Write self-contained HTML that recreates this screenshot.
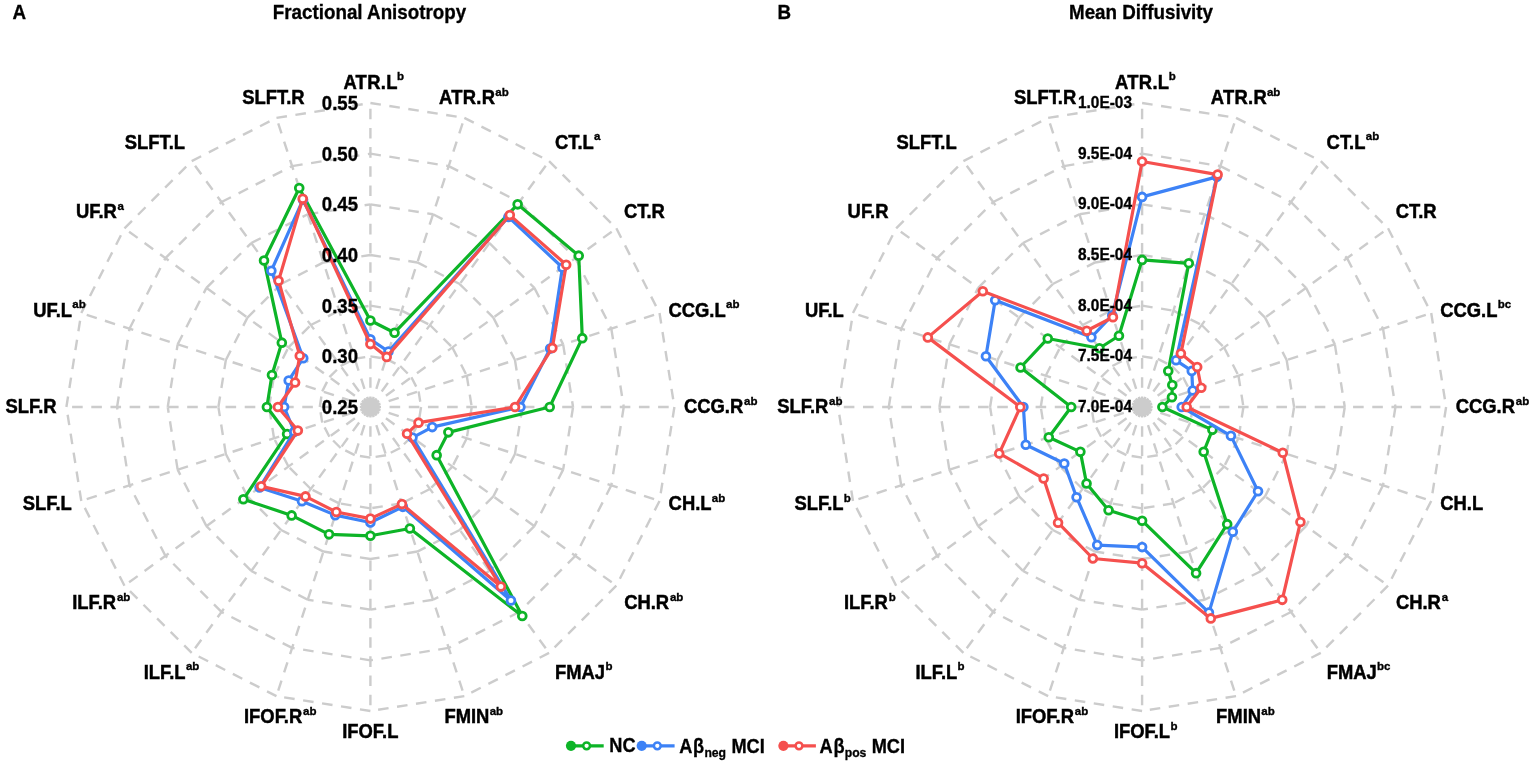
<!DOCTYPE html>
<html lang="en">
<head>
<meta charset="utf-8">
<title>Radar charts: Fractional Anisotropy and Mean Diffusivity</title>
<style>
html,body{margin:0;padding:0;background:#fff;}
body{width:1535px;height:766px;overflow:hidden;}
svg{display:block;}
svg text{font-family:"Liberation Sans",sans-serif;font-weight:700;fill:#000;stroke:#000;stroke-width:0.3px;}
svg .lab text{stroke-width:0.45px;}
svg text.sup{stroke-width:0.35px;}
</style>
</head>
<body>
<svg width="1535" height="766" viewBox="0 0 1535 766">
<rect width="1535" height="766" fill="#fff"/>
<!-- Panel A -->
<g fill="none" stroke="#cccccc" stroke-width="2.4" stroke-dasharray="10.6 8.58">
<path d="M370.4 407L370.4 103"/>
<path d="M370.4 407L464.34 117.88"/>
<path d="M370.4 407L549.09 161.06"/>
<path d="M370.4 407L616.34 228.31"/>
<path d="M370.4 407L659.52 313.06"/>
<path d="M370.4 407L674.4 407"/>
<path d="M370.4 407L659.52 500.94"/>
<path d="M370.4 407L616.34 585.69"/>
<path d="M370.4 407L549.09 652.94"/>
<path d="M370.4 407L464.34 696.12"/>
<path d="M370.4 407L370.4 711"/>
<path d="M370.4 407L276.46 696.12"/>
<path d="M370.4 407L191.71 652.94"/>
<path d="M370.4 407L124.46 585.69"/>
<path d="M370.4 407L81.28 500.94"/>
<path d="M370.4 407L66.4 407"/>
<path d="M370.4 407L81.28 313.06"/>
<path d="M370.4 407L124.46 228.31"/>
<path d="M370.4 407L191.71 161.06"/>
<path d="M370.4 407L276.46 117.88"/>
<path d="M370.4 356.33L386.06 358.81M386.06 358.81L400.18 366.01M400.18 366.01L411.39 377.22M411.39 377.22L418.59 391.34M418.59 391.34L421.07 407M421.07 407L418.59 422.66M418.59 422.66L411.39 436.78M411.39 436.78L400.18 447.99M400.18 447.99L386.06 455.19M386.06 455.19L370.4 457.67M370.4 457.67L354.74 455.19M354.74 455.19L340.62 447.99M340.62 447.99L329.41 436.78M329.41 436.78L322.21 422.66M322.21 422.66L319.73 407M319.73 407L322.21 391.34M322.21 391.34L329.41 377.22M329.41 377.22L340.62 366.01M340.62 366.01L354.74 358.81M354.74 358.81L370.4 356.33"/>
<path d="M370.4 305.67L401.71 310.63M401.71 310.63L429.96 325.02M429.96 325.02L452.38 347.44M452.38 347.44L466.77 375.69M466.77 375.69L471.73 407M471.73 407L466.77 438.31M466.77 438.31L452.38 466.56M452.38 466.56L429.96 488.98M429.96 488.98L401.71 503.37M401.71 503.37L370.4 508.33M370.4 508.33L339.09 503.37M339.09 503.37L310.84 488.98M310.84 488.98L288.42 466.56M288.42 466.56L274.03 438.31M274.03 438.31L269.07 407M269.07 407L274.03 375.69M274.03 375.69L288.42 347.44M288.42 347.44L310.84 325.02M310.84 325.02L339.09 310.63M339.09 310.63L370.4 305.67"/>
<path d="M370.4 255L417.37 262.44M417.37 262.44L459.74 284.03M459.74 284.03L493.37 317.66M493.37 317.66L514.96 360.03M514.96 360.03L522.4 407M522.4 407L514.96 453.97M514.96 453.97L493.37 496.34M493.37 496.34L459.74 529.97M459.74 529.97L417.37 551.56M417.37 551.56L370.4 559M370.4 559L323.43 551.56M323.43 551.56L281.06 529.97M281.06 529.97L247.43 496.34M247.43 496.34L225.84 453.97M225.84 453.97L218.4 407M218.4 407L225.84 360.03M225.84 360.03L247.43 317.66M247.43 317.66L281.06 284.03M281.06 284.03L323.43 262.44M323.43 262.44L370.4 255"/>
<path d="M370.4 204.33L433.03 214.25M433.03 214.25L489.52 243.04M489.52 243.04L534.36 287.88M534.36 287.88L563.15 344.37M563.15 344.37L573.07 407M573.07 407L563.15 469.63M563.15 469.63L534.36 526.12M534.36 526.12L489.52 570.96M489.52 570.96L433.03 599.75M433.03 599.75L370.4 609.67M370.4 609.67L307.77 599.75M307.77 599.75L251.28 570.96M251.28 570.96L206.44 526.12M206.44 526.12L177.65 469.63M177.65 469.63L167.73 407M167.73 407L177.65 344.37M177.65 344.37L206.44 287.88M206.44 287.88L251.28 243.04M251.28 243.04L307.77 214.25M307.77 214.25L370.4 204.33"/>
<path d="M370.4 153.67L448.68 166.07M448.68 166.07L519.31 202.05M519.31 202.05L575.35 258.09M575.35 258.09L611.33 328.72M611.33 328.72L623.73 407M623.73 407L611.33 485.28M611.33 485.28L575.35 555.91M575.35 555.91L519.31 611.95M519.31 611.95L448.68 647.93M448.68 647.93L370.4 660.33M370.4 660.33L292.12 647.93M292.12 647.93L221.49 611.95M221.49 611.95L165.45 555.91M165.45 555.91L129.47 485.28M129.47 485.28L117.07 407M117.07 407L129.47 328.72M129.47 328.72L165.45 258.09M165.45 258.09L221.49 202.05M221.49 202.05L292.12 166.07M292.12 166.07L370.4 153.67"/>
<path d="M370.4 103L464.34 117.88M464.34 117.88L549.09 161.06M549.09 161.06L616.34 228.31M616.34 228.31L659.52 313.06M659.52 313.06L674.4 407M674.4 407L659.52 500.94M659.52 500.94L616.34 585.69M616.34 585.69L549.09 652.94M549.09 652.94L464.34 696.12M464.34 696.12L370.4 711M370.4 711L276.46 696.12M276.46 696.12L191.71 652.94M191.71 652.94L124.46 585.69M124.46 585.69L81.28 500.94M81.28 500.94L66.4 407M66.4 407L81.28 313.06M81.28 313.06L124.46 228.31M124.46 228.31L191.71 161.06M191.71 161.06L276.46 117.88M276.46 117.88L370.4 103"/>
</g>
<circle cx="370.4" cy="407" r="9.6" fill="#cccccc"/>
<g stroke="#0db427">
<path d="M370.4 320.5L394.53 332.72L517.64 204.34L578.72 255.65L582.3 338.15L549.7 407L448.39 432.34L436.66 455.14L522.28 616.05L409.86 528.45L370.4 535.8L329.02 534.35L291.64 515.41L243.38 499.28L287.09 434.07L266.9 407L271.97 375.02L281.81 342.64L264.01 260.57L299.23 187.97Z" fill="none" stroke-width="3.2" stroke-linejoin="round"/>
<g fill="#fff" stroke-width="2.8">
<circle cx="370.4" cy="320.5" r="3.9"/>
<circle cx="394.53" cy="332.72" r="3.9"/>
<circle cx="517.64" cy="204.34" r="3.9"/>
<circle cx="578.72" cy="255.65" r="3.9"/>
<circle cx="582.3" cy="338.15" r="3.9"/>
<circle cx="549.7" cy="407" r="3.9"/>
<circle cx="448.39" cy="432.34" r="3.9"/>
<circle cx="436.66" cy="455.14" r="3.9"/>
<circle cx="522.28" cy="616.05" r="3.9"/>
<circle cx="409.86" cy="528.45" r="3.9"/>
<circle cx="370.4" cy="535.8" r="3.9"/>
<circle cx="329.02" cy="534.35" r="3.9"/>
<circle cx="291.64" cy="515.41" r="3.9"/>
<circle cx="243.38" cy="499.28" r="3.9"/>
<circle cx="287.09" cy="434.07" r="3.9"/>
<circle cx="266.9" cy="407" r="3.9"/>
<circle cx="271.97" cy="375.02" r="3.9"/>
<circle cx="281.81" cy="342.64" r="3.9"/>
<circle cx="264.01" cy="260.57" r="3.9"/>
<circle cx="299.23" cy="187.97" r="3.9"/>
</g></g>
<g stroke="#3d82f6">
<path d="M370.4 339.3L388.45 351.46L508.41 217.04L562.46 267.46L550.15 348.6L520.4 407L432.22 427.09L412.47 437.56L510.94 600.44L402.85 506.86L370.4 522.5L335.26 515.14L301.98 501.17L259.56 487.53L294.32 431.72L284.1 407L288.7 380.46L303.25 358.21L271.36 270.68L303.03 199.67Z" fill="none" stroke-width="3.2" stroke-linejoin="round"/>
<g fill="#fff" stroke-width="2.8">
<circle cx="370.4" cy="339.3" r="3.9"/>
<circle cx="388.45" cy="351.46" r="3.9"/>
<circle cx="508.41" cy="217.04" r="3.9"/>
<circle cx="562.46" cy="267.46" r="3.9"/>
<circle cx="550.15" cy="348.6" r="3.9"/>
<circle cx="520.4" cy="407" r="3.9"/>
<circle cx="432.22" cy="427.09" r="3.9"/>
<circle cx="412.47" cy="437.56" r="3.9"/>
<circle cx="510.94" cy="600.44" r="3.9"/>
<circle cx="402.85" cy="506.86" r="3.9"/>
<circle cx="370.4" cy="522.5" r="3.9"/>
<circle cx="335.26" cy="515.14" r="3.9"/>
<circle cx="301.98" cy="501.17" r="3.9"/>
<circle cx="259.56" cy="487.53" r="3.9"/>
<circle cx="294.32" cy="431.72" r="3.9"/>
<circle cx="284.1" cy="407" r="3.9"/>
<circle cx="288.7" cy="380.46" r="3.9"/>
<circle cx="303.25" cy="358.21" r="3.9"/>
<circle cx="271.36" cy="270.68" r="3.9"/>
<circle cx="303.03" cy="199.67" r="3.9"/>
</g></g>
<g stroke="#f5504e">
<path d="M370.4 344L386.69 356.88L509.82 215.1L566.18 264.76L552.34 347.89L515 407L418.52 422.64L407.05 433.63L500.89 586.6L401.95 504.1L370.4 518.6L336.28 512L305.45 496.4L261.18 486.35L297.83 430.58L277.9 407L295.08 382.53L299.77 355.69L278.59 280.63L302.73 198.72Z" fill="none" stroke-width="3.2" stroke-linejoin="round"/>
<g fill="#fff" stroke-width="2.8">
<circle cx="370.4" cy="344" r="3.9"/>
<circle cx="386.69" cy="356.88" r="3.9"/>
<circle cx="509.82" cy="215.1" r="3.9"/>
<circle cx="566.18" cy="264.76" r="3.9"/>
<circle cx="552.34" cy="347.89" r="3.9"/>
<circle cx="515" cy="407" r="3.9"/>
<circle cx="418.52" cy="422.64" r="3.9"/>
<circle cx="407.05" cy="433.63" r="3.9"/>
<circle cx="500.89" cy="586.6" r="3.9"/>
<circle cx="401.95" cy="504.1" r="3.9"/>
<circle cx="370.4" cy="518.6" r="3.9"/>
<circle cx="336.28" cy="512" r="3.9"/>
<circle cx="305.45" cy="496.4" r="3.9"/>
<circle cx="261.18" cy="486.35" r="3.9"/>
<circle cx="297.83" cy="430.58" r="3.9"/>
<circle cx="277.9" cy="407" r="3.9"/>
<circle cx="295.08" cy="382.53" r="3.9"/>
<circle cx="299.77" cy="355.69" r="3.9"/>
<circle cx="278.59" cy="280.63" r="3.9"/>
<circle cx="302.73" cy="198.72" r="3.9"/>
</g></g>
<g font-size="18.6" text-anchor="end">
<text transform="translate(358 413.9) scale(1 1.07)">0.25</text>
<text transform="translate(358 363.23) scale(1 1.07)">0.30</text>
<text transform="translate(358 312.57) scale(1 1.07)">0.35</text>
<text transform="translate(358 261.9) scale(1 1.07)">0.40</text>
<text transform="translate(358 211.23) scale(1 1.07)">0.45</text>
<text transform="translate(358 160.57) scale(1 1.07)">0.50</text>
<text transform="translate(358 109.9) scale(1 1.07)">0.55</text>
</g>
<g font-size="18.4" class="lab">
<text transform="translate(343.4 88.7) scale(1 1.08)" letter-spacing="0.3">ATR.L</text>
<text class="sup" x="397.1" y="80.4" font-size="11.5">b</text>
<text transform="translate(439 104) scale(1 1.08)" letter-spacing="0.3">ATR.R</text>
<text class="sup" x="495.25" y="95.7" font-size="11.5">ab</text>
<text transform="translate(554.9 148.6) scale(1 1.08)">CT.L</text>
<text class="sup" x="594.04" y="140.3" font-size="11.5">a</text>
<text transform="translate(624 218.2) scale(1 1.08)">CT.R</text>
<text transform="translate(668.5 316.5) scale(1 1.08)">CCG.L</text>
<text class="sup" x="726.04" y="308.2" font-size="11.5">ab</text>
<text transform="translate(684 413.35) scale(1 1.08)">CCG.R</text>
<text class="sup" x="744.09" y="405.05" font-size="11.5">ab</text>
<text transform="translate(668.6 510.4) scale(1 1.08)">CH.L</text>
<text class="sup" x="711.83" y="502.1" font-size="11.5">ab</text>
<text transform="translate(624.2 609.1) scale(1 1.08)">CH.R</text>
<text class="sup" x="669.98" y="600.8" font-size="11.5">ab</text>
<text transform="translate(555 678.6) scale(1 1.08)">FMAJ</text>
<text class="sup" x="605.39" y="670.3" font-size="11.5">b</text>
<text transform="translate(444.4 723.1) scale(1 1.08)">FMIN</text>
<text class="sup" x="489.67" y="714.8" font-size="11.5">ab</text>
<text transform="translate(342.2 738) scale(1 1.08)">IFOF.L</text>
<text transform="translate(244 723.1) scale(1 1.08)">IFOF.R</text>
<text class="sup" x="303.06" y="714.8" font-size="11.5">ab</text>
<text transform="translate(143.7 678.6) scale(1 1.08)">ILF.L</text>
<text class="sup" x="185.9" y="670.3" font-size="11.5">ab</text>
<text transform="translate(72.2 609.1) scale(1 1.08)">ILF.R</text>
<text class="sup" x="116.95" y="600.8" font-size="11.5">ab</text>
<text transform="translate(22.8 510.4) scale(1 1.08)">SLF.L</text>
<text transform="translate(5.5 413.35) scale(1 1.08)">SLF.R</text>
<text transform="translate(33.2 316.5) scale(1 1.08)">UF.L</text>
<text class="sup" x="72.34" y="308.2" font-size="11.5">ab</text>
<text transform="translate(75.9 218.2) scale(1 1.08)">UF.R</text>
<text class="sup" x="117.59" y="209.9" font-size="11.5">a</text>
<text transform="translate(124.7 148.6) scale(1 1.08)">SLFT.L</text>
<text transform="translate(242.2 104) scale(1 1.08)">SLFT.R</text>
</g>
<!-- Panel B -->
<g fill="none" stroke="#cccccc" stroke-width="2.4" stroke-dasharray="10.6 8.58">
<path d="M1142.1 407L1142.1 103"/>
<path d="M1142.1 407L1236.04 117.88"/>
<path d="M1142.1 407L1320.79 161.06"/>
<path d="M1142.1 407L1388.04 228.31"/>
<path d="M1142.1 407L1431.22 313.06"/>
<path d="M1142.1 407L1446.1 407"/>
<path d="M1142.1 407L1431.22 500.94"/>
<path d="M1142.1 407L1388.04 585.69"/>
<path d="M1142.1 407L1320.79 652.94"/>
<path d="M1142.1 407L1236.04 696.12"/>
<path d="M1142.1 407L1142.1 711"/>
<path d="M1142.1 407L1048.16 696.12"/>
<path d="M1142.1 407L963.41 652.94"/>
<path d="M1142.1 407L896.16 585.69"/>
<path d="M1142.1 407L852.98 500.94"/>
<path d="M1142.1 407L838.1 407"/>
<path d="M1142.1 407L852.98 313.06"/>
<path d="M1142.1 407L896.16 228.31"/>
<path d="M1142.1 407L963.41 161.06"/>
<path d="M1142.1 407L1048.16 117.88"/>
<path d="M1142.1 356.33L1157.76 358.81M1157.76 358.81L1171.88 366.01M1171.88 366.01L1183.09 377.22M1183.09 377.22L1190.29 391.34M1190.29 391.34L1192.77 407M1192.77 407L1190.29 422.66M1190.29 422.66L1183.09 436.78M1183.09 436.78L1171.88 447.99M1171.88 447.99L1157.76 455.19M1157.76 455.19L1142.1 457.67M1142.1 457.67L1126.44 455.19M1126.44 455.19L1112.32 447.99M1112.32 447.99L1101.11 436.78M1101.11 436.78L1093.91 422.66M1093.91 422.66L1091.43 407M1091.43 407L1093.91 391.34M1093.91 391.34L1101.11 377.22M1101.11 377.22L1112.32 366.01M1112.32 366.01L1126.44 358.81M1126.44 358.81L1142.1 356.33"/>
<path d="M1142.1 305.67L1173.41 310.63M1173.41 310.63L1201.66 325.02M1201.66 325.02L1224.08 347.44M1224.08 347.44L1238.47 375.69M1238.47 375.69L1243.43 407M1243.43 407L1238.47 438.31M1238.47 438.31L1224.08 466.56M1224.08 466.56L1201.66 488.98M1201.66 488.98L1173.41 503.37M1173.41 503.37L1142.1 508.33M1142.1 508.33L1110.79 503.37M1110.79 503.37L1082.54 488.98M1082.54 488.98L1060.12 466.56M1060.12 466.56L1045.73 438.31M1045.73 438.31L1040.77 407M1040.77 407L1045.73 375.69M1045.73 375.69L1060.12 347.44M1060.12 347.44L1082.54 325.02M1082.54 325.02L1110.79 310.63M1110.79 310.63L1142.1 305.67"/>
<path d="M1142.1 255L1189.07 262.44M1189.07 262.44L1231.44 284.03M1231.44 284.03L1265.07 317.66M1265.07 317.66L1286.66 360.03M1286.66 360.03L1294.1 407M1294.1 407L1286.66 453.97M1286.66 453.97L1265.07 496.34M1265.07 496.34L1231.44 529.97M1231.44 529.97L1189.07 551.56M1189.07 551.56L1142.1 559M1142.1 559L1095.13 551.56M1095.13 551.56L1052.76 529.97M1052.76 529.97L1019.13 496.34M1019.13 496.34L997.54 453.97M997.54 453.97L990.1 407M990.1 407L997.54 360.03M997.54 360.03L1019.13 317.66M1019.13 317.66L1052.76 284.03M1052.76 284.03L1095.13 262.44M1095.13 262.44L1142.1 255"/>
<path d="M1142.1 204.33L1204.73 214.25M1204.73 214.25L1261.22 243.04M1261.22 243.04L1306.06 287.88M1306.06 287.88L1334.85 344.37M1334.85 344.37L1344.77 407M1344.77 407L1334.85 469.63M1334.85 469.63L1306.06 526.12M1306.06 526.12L1261.22 570.96M1261.22 570.96L1204.73 599.75M1204.73 599.75L1142.1 609.67M1142.1 609.67L1079.47 599.75M1079.47 599.75L1022.98 570.96M1022.98 570.96L978.14 526.12M978.14 526.12L949.35 469.63M949.35 469.63L939.43 407M939.43 407L949.35 344.37M949.35 344.37L978.14 287.88M978.14 287.88L1022.98 243.04M1022.98 243.04L1079.47 214.25M1079.47 214.25L1142.1 204.33"/>
<path d="M1142.1 153.67L1220.38 166.07M1220.38 166.07L1291.01 202.05M1291.01 202.05L1347.05 258.09M1347.05 258.09L1383.03 328.72M1383.03 328.72L1395.43 407M1395.43 407L1383.03 485.28M1383.03 485.28L1347.05 555.91M1347.05 555.91L1291.01 611.95M1291.01 611.95L1220.38 647.93M1220.38 647.93L1142.1 660.33M1142.1 660.33L1063.82 647.93M1063.82 647.93L993.19 611.95M993.19 611.95L937.15 555.91M937.15 555.91L901.17 485.28M901.17 485.28L888.77 407M888.77 407L901.17 328.72M901.17 328.72L937.15 258.09M937.15 258.09L993.19 202.05M993.19 202.05L1063.82 166.07M1063.82 166.07L1142.1 153.67"/>
<path d="M1142.1 103L1236.04 117.88M1236.04 117.88L1320.79 161.06M1320.79 161.06L1388.04 228.31M1388.04 228.31L1431.22 313.06M1431.22 313.06L1446.1 407M1446.1 407L1431.22 500.94M1431.22 500.94L1388.04 585.69M1388.04 585.69L1320.79 652.94M1320.79 652.94L1236.04 696.12M1236.04 696.12L1142.1 711M1142.1 711L1048.16 696.12M1048.16 696.12L963.41 652.94M963.41 652.94L896.16 585.69M896.16 585.69L852.98 500.94M852.98 500.94L838.1 407M838.1 407L852.98 313.06M852.98 313.06L896.16 228.31M896.16 228.31L963.41 161.06M963.41 161.06L1048.16 117.88M1048.16 117.88L1142.1 103"/>
</g>
<circle cx="1142.1" cy="407" r="9.6" fill="#cccccc"/>
<g stroke="#0db427">
<path d="M1142.1 259.9L1188.79 263.3L1168.26 371L1172.28 385.08L1171.96 397.3L1162.4 407L1212.38 429.84L1203.67 451.73L1227.21 524.15L1196.09 573.15L1142.1 520.7L1108.57 510.19L1086.55 483.45L1080.37 451.85L1048.8 437.31L1071.2 407L1020.55 367.51L1047.77 338.46L1099.43 348.27L1118.95 335.77Z" fill="none" stroke-width="3.2" stroke-linejoin="round"/>
<g fill="#fff" stroke-width="2.8">
<circle cx="1142.1" cy="259.9" r="3.9"/>
<circle cx="1188.79" cy="263.3" r="3.9"/>
<circle cx="1168.26" cy="371" r="3.9"/>
<circle cx="1172.28" cy="385.08" r="3.9"/>
<circle cx="1171.96" cy="397.3" r="3.9"/>
<circle cx="1162.4" cy="407" r="3.9"/>
<circle cx="1212.38" cy="429.84" r="3.9"/>
<circle cx="1203.67" cy="451.73" r="3.9"/>
<circle cx="1227.21" cy="524.15" r="3.9"/>
<circle cx="1196.09" cy="573.15" r="3.9"/>
<circle cx="1142.1" cy="520.7" r="3.9"/>
<circle cx="1108.57" cy="510.19" r="3.9"/>
<circle cx="1086.55" cy="483.45" r="3.9"/>
<circle cx="1080.37" cy="451.85" r="3.9"/>
<circle cx="1048.8" cy="437.31" r="3.9"/>
<circle cx="1071.2" cy="407" r="3.9"/>
<circle cx="1020.55" cy="367.51" r="3.9"/>
<circle cx="1047.77" cy="338.46" r="3.9"/>
<circle cx="1099.43" cy="348.27" r="3.9"/>
<circle cx="1118.95" cy="335.77" r="3.9"/>
</g></g>
<g stroke="#3d82f6">
<path d="M1142.1 196.9L1216.88 176.84L1176.02 360.32L1191.77 370.91L1192.7 390.56L1181.7 407L1230.93 435.86L1258.03 491.23L1232.8 531.83L1208.91 612.62L1142.1 547.1L1097.23 545.09L1076.56 497.21L1064.27 463.54L1025.79 444.79L1023.4 407L985.94 356.26L995.18 300.26L1091.43 337.26L1112.28 315.22Z" fill="none" stroke-width="3.2" stroke-linejoin="round"/>
<g fill="#fff" stroke-width="2.8">
<circle cx="1142.1" cy="196.9" r="3.9"/>
<circle cx="1216.88" cy="176.84" r="3.9"/>
<circle cx="1176.02" cy="360.32" r="3.9"/>
<circle cx="1191.77" cy="370.91" r="3.9"/>
<circle cx="1192.7" cy="390.56" r="3.9"/>
<circle cx="1181.7" cy="407" r="3.9"/>
<circle cx="1230.93" cy="435.86" r="3.9"/>
<circle cx="1258.03" cy="491.23" r="3.9"/>
<circle cx="1232.8" cy="531.83" r="3.9"/>
<circle cx="1208.91" cy="612.62" r="3.9"/>
<circle cx="1142.1" cy="547.1" r="3.9"/>
<circle cx="1097.23" cy="545.09" r="3.9"/>
<circle cx="1076.56" cy="497.21" r="3.9"/>
<circle cx="1064.27" cy="463.54" r="3.9"/>
<circle cx="1025.79" cy="444.79" r="3.9"/>
<circle cx="1023.4" cy="407" r="3.9"/>
<circle cx="985.94" cy="356.26" r="3.9"/>
<circle cx="995.18" cy="300.26" r="3.9"/>
<circle cx="1091.43" cy="337.26" r="3.9"/>
<circle cx="1112.28" cy="315.22" r="3.9"/>
</g></g>
<g stroke="#f5504e">
<path d="M1142.1 161.5L1217.62 174.56L1180.89 353.6L1197.19 366.97L1201.26 387.78L1186.7 407L1282.76 452.7L1300.42 522.03L1282.23 599.87L1210.79 618.42L1142.1 563.2L1092.87 558.5L1058.05 522.69L1043.64 478.53L999.25 453.41L1020.3 407L927.83 337.38L982.8 291.27L1086.73 330.79L1112.93 317.22Z" fill="none" stroke-width="3.2" stroke-linejoin="round"/>
<g fill="#fff" stroke-width="2.8">
<circle cx="1142.1" cy="161.5" r="3.9"/>
<circle cx="1217.62" cy="174.56" r="3.9"/>
<circle cx="1180.89" cy="353.6" r="3.9"/>
<circle cx="1197.19" cy="366.97" r="3.9"/>
<circle cx="1201.26" cy="387.78" r="3.9"/>
<circle cx="1186.7" cy="407" r="3.9"/>
<circle cx="1282.76" cy="452.7" r="3.9"/>
<circle cx="1300.42" cy="522.03" r="3.9"/>
<circle cx="1282.23" cy="599.87" r="3.9"/>
<circle cx="1210.79" cy="618.42" r="3.9"/>
<circle cx="1142.1" cy="563.2" r="3.9"/>
<circle cx="1092.87" cy="558.5" r="3.9"/>
<circle cx="1058.05" cy="522.69" r="3.9"/>
<circle cx="1043.64" cy="478.53" r="3.9"/>
<circle cx="999.25" cy="453.41" r="3.9"/>
<circle cx="1020.3" cy="407" r="3.9"/>
<circle cx="927.83" cy="337.38" r="3.9"/>
<circle cx="982.8" cy="291.27" r="3.9"/>
<circle cx="1086.73" cy="330.79" r="3.9"/>
<circle cx="1112.93" cy="317.22" r="3.9"/>
</g></g>
<g font-size="15.45" text-anchor="end">
<text transform="translate(1132 411.95) scale(1 1.07)">7.0E-04</text>
<text transform="translate(1132 361.28) scale(1 1.07)">7.5E-04</text>
<text transform="translate(1132 310.62) scale(1 1.07)">8.0E-04</text>
<text transform="translate(1132 259.95) scale(1 1.07)">8.5E-04</text>
<text transform="translate(1132 209.28) scale(1 1.07)">9.0E-04</text>
<text transform="translate(1132 158.62) scale(1 1.07)">9.5E-04</text>
<text transform="translate(1132 107.95) scale(1 1.07)">1.0E-03</text>
</g>
<g font-size="18.4" class="lab">
<text transform="translate(1115.1 88.7) scale(1 1.08)" letter-spacing="0.3">ATR.L</text>
<text class="sup" x="1168.8" y="80.4" font-size="11.5">b</text>
<text transform="translate(1210.7 104) scale(1 1.08)" letter-spacing="0.3">ATR.R</text>
<text class="sup" x="1266.95" y="95.7" font-size="11.5">ab</text>
<text transform="translate(1326.6 148.6) scale(1 1.08)">CT.L</text>
<text class="sup" x="1365.74" y="140.3" font-size="11.5">ab</text>
<text transform="translate(1395.7 218.2) scale(1 1.08)">CT.R</text>
<text transform="translate(1440.2 316.5) scale(1 1.08)">CCG.L</text>
<text class="sup" x="1497.74" y="308.2" font-size="11.5">bc</text>
<text transform="translate(1455.7 413.35) scale(1 1.08)">CCG.R</text>
<text class="sup" x="1515.79" y="405.05" font-size="11.5">ab</text>
<text transform="translate(1440.3 510.4) scale(1 1.08)">CH.L</text>
<text transform="translate(1395.9 609.1) scale(1 1.08)">CH.R</text>
<text class="sup" x="1441.68" y="600.8" font-size="11.5">a</text>
<text transform="translate(1326.7 678.6) scale(1 1.08)">FMAJ</text>
<text class="sup" x="1377.09" y="670.3" font-size="11.5">bc</text>
<text transform="translate(1216.1 723.1) scale(1 1.08)">FMIN</text>
<text class="sup" x="1261.36" y="714.8" font-size="11.5">ab</text>
<text transform="translate(1113.9 738) scale(1 1.08)">IFOF.L</text>
<text class="sup" x="1170.41" y="729.7" font-size="11.5">b</text>
<text transform="translate(1015.7 723.1) scale(1 1.08)">IFOF.R</text>
<text class="sup" x="1074.76" y="714.8" font-size="11.5">ab</text>
<text transform="translate(915.4 678.6) scale(1 1.08)">ILF.L</text>
<text class="sup" x="957.6" y="670.3" font-size="11.5">b</text>
<text transform="translate(843.9 609.1) scale(1 1.08)">ILF.R</text>
<text class="sup" x="888.65" y="600.8" font-size="11.5">b</text>
<text transform="translate(794.5 510.4) scale(1 1.08)">SLF.L</text>
<text class="sup" x="843.86" y="502.1" font-size="11.5">b</text>
<text transform="translate(777.2 413.35) scale(1 1.08)">SLF.R</text>
<text class="sup" x="829.11" y="405.05" font-size="11.5">ab</text>
<text transform="translate(804.9 316.5) scale(1 1.08)">UF.L</text>
<text transform="translate(847.6 218.2) scale(1 1.08)">UF.R</text>
<text transform="translate(896.4 148.6) scale(1 1.08)">SLFT.L</text>
<text transform="translate(1013.9 104) scale(1 1.08)">SLFT.R</text>
</g>
<g font-size="18.8">
<text transform="translate(12.6 19.3) scale(1 1.07)">A</text>
<text transform="translate(369.5 19.3) scale(1 1.07)" text-anchor="middle">Fractional Anisotropy</text>
<text transform="translate(777.4 19.3) scale(1 1.07)">B</text>
<text transform="translate(1141 19.3) scale(1 1.07)" text-anchor="middle">Mean Diffusivity</text>
</g>
<!-- Legend -->
<path d="M571 745.85H603.7" stroke="#0db427" stroke-width="3.1" fill="none"/>
<circle cx="571" cy="745.85" r="5.1" fill="#0db427"/>
<circle cx="586.6" cy="745.85" r="3.4" fill="#fff" stroke="#0db427" stroke-width="2.5"/>
<text transform="translate(609.3 752) scale(1 1.07)" font-size="18.2">NC</text>
<path d="M641.7 745.85H674.6" stroke="#3d82f6" stroke-width="3.1" fill="none"/>
<circle cx="641.7" cy="745.85" r="5.1" fill="#3d82f6"/>
<circle cx="657.3" cy="745.85" r="3.4" fill="#fff" stroke="#3d82f6" stroke-width="2.5"/>
<text transform="translate(679.2 752.6) scale(1 1.07)" font-size="18.2">A<tspan x="13.9">β</tspan><tspan font-size="12.2" x="25.2" dy="3.7">neg</tspan> <tspan x="52.2" dy="-3.7">MCI</tspan></text>
<path d="M783.4 745.85H815.9" stroke="#f5504e" stroke-width="3.1" fill="none"/>
<circle cx="783.4" cy="745.85" r="5.1" fill="#f5504e"/>
<circle cx="799" cy="745.85" r="3.4" fill="#fff" stroke="#f5504e" stroke-width="2.5"/>
<text transform="translate(819.5 752.6) scale(1 1.07)" font-size="18.2">A<tspan x="13.9">β</tspan><tspan font-size="12.2" x="25.2" dy="3.7">pos</tspan> <tspan x="52.2" dy="-3.7">MCI</tspan></text>
</svg>
</body>
</html>
